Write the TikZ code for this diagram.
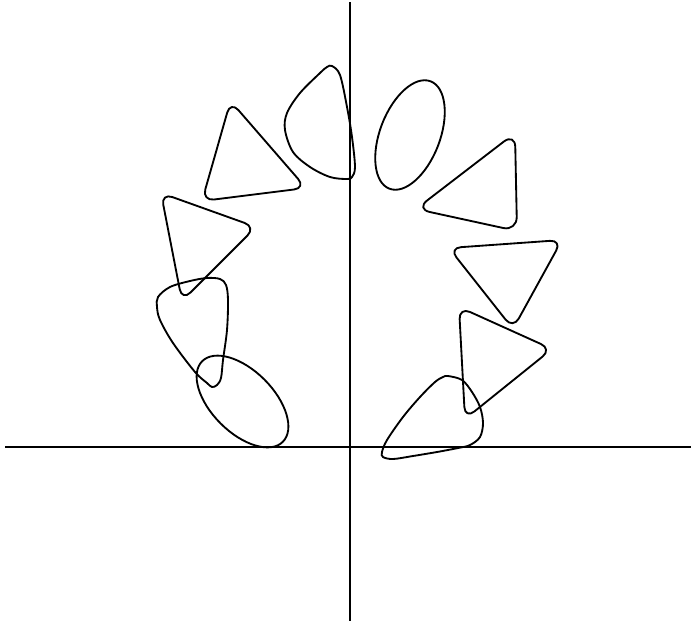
\documentclass[tikz,border=0pt]{standalone}
\begin{document}
\begin{tikzpicture}[x=1pt,y=-1pt,
  curve/.style={line width=1.85pt,line join=round},
  tri/.style={curve,rounded corners=12pt},
  axis/.style={line width=1.6pt}]
\useasboundingbox[fill=white] (0,0) rectangle (693,627);
% axes
\coordinate (xl) at (5,447);
\coordinate (xr) at (691,447);
\coordinate (yt) at (350,2);
\coordinate (yb) at (350,621);
\draw[axis] (xl) -- (xr);
\draw[axis] (yt) -- (yb);
% ellipses
\draw[curve,shift={(242.5,401.5)},rotate=-45] (0,0) ellipse [x radius=57pt,y radius=31pt];
\draw[curve,shift={(410,135)},rotate=69] (0,0) ellipse [x radius=57.5pt,y radius=30pt];
% teardrop B
\draw[curve] plot[smooth cycle,tension=0.55] coordinates {
 (158,297) (157,307) (160,320) (173,343) (195,372) (207,383) (212,387)
 (217,385) (221,378) (223,360) (227,330) (228,300) (226,285) (220,279)
 (207,278) (190,281) (170,287)};
% triangle C
\draw[tri] (161,193) -- (256,227) -- (182,301) -- cycle;
% triangle D
\draw[tri] (230.5,101) -- (306,188) -- (202,201) -- cycle;
% teardrop E
\draw[curve] plot[smooth cycle,tension=0.55] coordinates {
 (332,66) (340,75) (347,107) (352,137) (355,167) (352,177) (347,179)
 (330,177) (310,167) (293,152) (285,130) (287,113) (300,93) (320,73) (327,67)};
% triangle G
\draw[tri,rounded corners=14pt] (515,133) -- (517,231) -- (416,209) -- cycle;
% triangle H
\draw[tri] (449,248) -- (562,240) -- (513,329) -- cycle;
% triangle I
\draw[tri] (459,307) -- (552,349) -- (465,419) -- cycle;
% teardrop J
\draw[curve] plot[smooth cycle,tension=0.55] coordinates {
 (448,376) (462,380) (472,392) (480,407) (483,423) (480,437) (470,445)
 (458,448) (437,452) (413,456) (393,459) (383,457) (382,452) (387,440)
 (403,417) (420,397) (435,382) (443,377)};
\end{tikzpicture}
\end{document}
